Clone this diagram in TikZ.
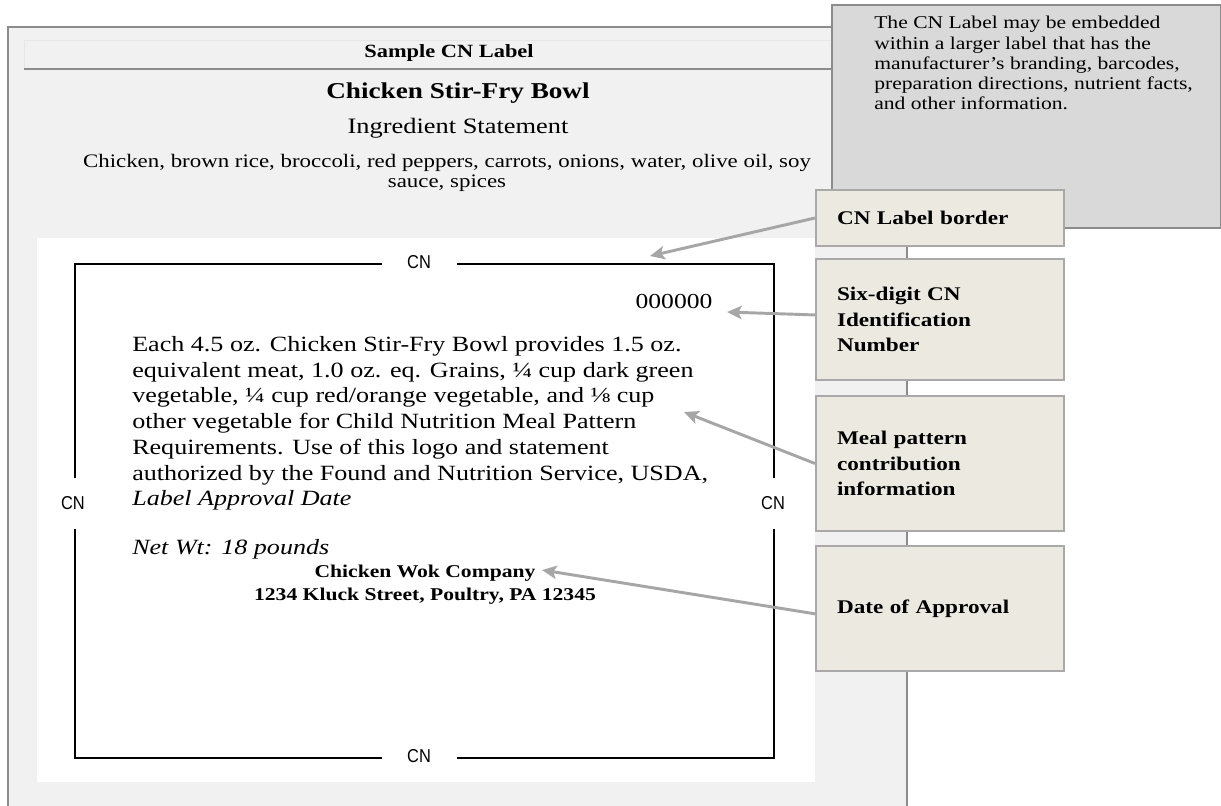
\documentclass[tikz,border=0pt]{standalone}
\usepackage{fontspec}
\setmainfont{Liberation Serif}[FakeStretch=1.2]
\newfontfamily\cnfont{Liberation Sans}[FakeStretch=0.88]
\usetikzlibrary{positioning, arrows.meta}
\definecolor{panelbg}{HTML}{F1F1F1}
\definecolor{panelgray}{HTML}{8C8C8C}
\definecolor{bandedge}{HTML}{E6E6E6}
\definecolor{calloutbg}{HTML}{D9D9D9}
\definecolor{notebg}{HTML}{ECEAE0}
\definecolor{notegray}{HTML}{A9A9A9}
\definecolor{arrowgray}{HTML}{A6A6A6}
\tikzset{
    panel/.style={draw=panelgray, line width=1.5pt, fill=panelbg},
    callout/.style={draw=panelgray, line width=1.2pt, fill=calloutbg},
    note/.style={draw=notegray, line width=1.5pt, fill=notebg, text width=154.5pt,
        inner xsep=15.75pt, align=left, font=\fontsize{14.5}{19}\selectfont\bfseries},
    pointer/.style={draw=arrowgray, line width=2.2pt,
        -{Stealth[length=11pt, width=10pt, inset=2.5pt]}},
    frame/.style={line width=1.5pt},
    cnmark/.style={font=\cnfont\fontsize{14}{16}\selectfont},
}

\begin{document}
\begin{tikzpicture}[x=0.75pt, y=-0.75pt]
\useasboundingbox (0,0) rectangle (1221,806);

% outer panel and heading
\draw[panel] (8,806) -- (8,27) -- (907,27) -- (907,806);
\draw[draw=bandedge, fill=panelbg] (24,40) rectangle (832,69);
\draw[draw=panelgray, line width=2pt] (24,69) -- (832,69);

\node[font=\fontsize{14}{16}\selectfont\bfseries] (sample) at (449,53) {Sample CN Label};
\node[font=\fontsize{17}{20}\selectfont\bfseries] (product) at (458,93) {Chicken Stir-Fry Bowl};
\node[font=\fontsize{16.5}{20}\selectfont] (ingtitle) at (458,128) {Ingredient Statement};
\node[font=\fontsize{14.3}{15}\selectfont, align=center] (ingredients) at (447,173)
    {Chicken, brown rice, broccoli, red peppers, carrots, onions, water, olive oil, soy\\ sauce, spices};

% white label area
\fill[white] (37,238) rectangle (815,782);

% CN frame
\node[cnmark] (cntop) at (419,262) {CN};
\node[cnmark] (cnbot) at (419,756) {CN};
\node[cnmark] (cnleft) at (73,503) {CN};
\node[cnmark] (cnright) at (773,503) {CN};
\draw[frame] (382,264) -- (75,264) -- (75,478);
\draw[frame] (75,529) -- (75,758) -- (382,758);
\draw[frame] (457,758) -- (774,758) -- (774,529);
\draw[frame] (774,478) -- (774,264) -- (457,264);

\node[font=\fontsize{16}{19}\selectfont] (cnnumber) at (674,302) {000000};
\node[anchor=north west, inner sep=0pt, align=left, font=\fontsize{16.3}{19.3}\selectfont] (statement) at (132,336)
    {Each 4.5 oz. Chicken Stir-Fry Bowl provides 1.5 oz.\\
     equivalent meat, 1.0 oz. eq. Grains, ¼ cup dark green\\
     vegetable, ¼ cup red/orange vegetable, and ⅛ cup\\
     other vegetable for Child Nutrition Meal Pattern\\
     Requirements. Use of this logo and statement\\
     authorized by the Found and Nutrition Service, USDA,\\
     \textit{Label Approval Date}};
\node[anchor=north west, inner sep=0pt, font=\fontsize{16.3}{19.3}\selectfont\itshape] (netwt) at (132,539) {Net Wt: 18 pounds};
\node[align=center, font=\fontsize{13.5}{17.25}\selectfont\bfseries] (company) at (425,585)
    {Chicken Wok Company\\ 1234 Kluck Street, Poultry, PA 12345};

% larger label note
\draw[callout] (832,5) rectangle (1221,228);
\node[anchor=north west, inner sep=0pt, align=left, font=\fontsize{13.5}{15.2}\selectfont] (embed) at (874,16)
    {The CN Label may be embedded\\
     within a larger label that has the\\
     manufacturer’s branding, barcodes,\\
     preparation directions, nutrient facts,\\
     and other information.};

% callouts
\node[note, minimum height=42pt, anchor=north west] (border) at (815,189) {CN Label border};
\node[note, minimum height=90.75pt, below=8.25pt of border] (sixdigit) {Six-digit CN\\ Identification\\ Number};
\node[note, minimum height=101.25pt, below=10.5pt of sixdigit] (meal) {Meal pattern\\ contribution\\ information};
\node[note, minimum height=93.75pt, below=9.75pt of meal] (approval) {Date of Approval};

\coordinate (tipborder) at (650,256);
\coordinate (tipnumber) at (727,312);
\coordinate (tipmeal) at (684,412);
\coordinate (tipdate) at (542,570);

\draw[pointer] (border.west) -- (tipborder);
\draw[pointer] ([yshift=3.4pt]sixdigit.west) -- (tipnumber);
\draw[pointer] (meal.west) -- (tipmeal);
\draw[pointer] ([yshift=-4pt]approval.west) -- (tipdate);

\end{tikzpicture}
\end{document}
